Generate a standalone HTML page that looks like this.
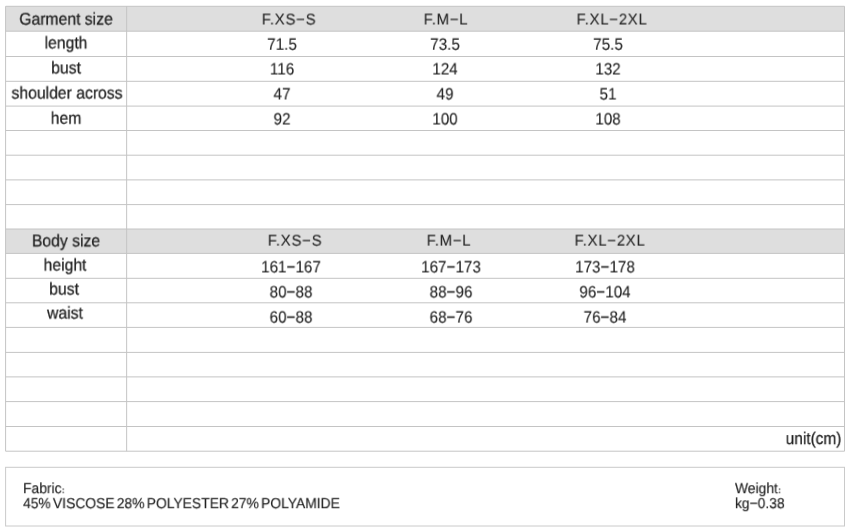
<!DOCTYPE html>
<html lang="en"><head><meta charset="utf-8"><title>Size chart</title>
<style>
html,body{margin:0;padding:0;background:#fff}
body{width:850px;height:532px;position:relative;overflow:hidden;font-family:"Liberation Sans","Noto Serif CJK SC",sans-serif;color:#222;text-rendering:geometricPrecision}
svg{position:absolute;left:0;top:0}
svg line{stroke:#c4c4c4;stroke-width:1}
.t{position:absolute;white-space:nowrap;line-height:20px;height:20px;will-change:transform}
.hd{letter-spacing:0.77px;-webkit-text-stroke:0.1px #222}
.lab{-webkit-text-stroke:0.25px #222}
.val{-webkit-text-stroke:0.1px #222}
.sm{-webkit-text-stroke:0.15px #222;word-spacing:-1.7px}
.co{font-size:8px;-webkit-text-stroke:0.5px #222}
</style></head><body>
<svg width="850" height="532" viewBox="0 0 850 532">
<rect x="5.6" y="6.3" width="838.90" height="24.90" fill="#dedede"/>
<rect x="5.6" y="229.0" width="838.90" height="24.40" fill="#dedede"/>
<line x1="5.6" y1="6.3" x2="844.5" y2="6.3"/>
<line x1="5.6" y1="31.2" x2="844.5" y2="31.2"/>
<line x1="5.6" y1="56.5" x2="844.5" y2="56.5"/>
<line x1="5.6" y1="81.3" x2="844.5" y2="81.3"/>
<line x1="5.6" y1="106.1" x2="844.5" y2="106.1"/>
<line x1="5.6" y1="130.5" x2="844.5" y2="130.5"/>
<line x1="5.6" y1="155.2" x2="844.5" y2="155.2"/>
<line x1="5.6" y1="179.9" x2="844.5" y2="179.9"/>
<line x1="5.6" y1="204.6" x2="844.5" y2="204.6"/>
<line x1="5.6" y1="229.0" x2="844.5" y2="229.0"/>
<line x1="5.6" y1="253.4" x2="844.5" y2="253.4"/>
<line x1="5.6" y1="278.3" x2="844.5" y2="278.3"/>
<line x1="5.6" y1="302.8" x2="844.5" y2="302.8"/>
<line x1="5.6" y1="327.4" x2="844.5" y2="327.4"/>
<line x1="5.6" y1="352.4" x2="844.5" y2="352.4"/>
<line x1="5.6" y1="376.9" x2="844.5" y2="376.9"/>
<line x1="5.6" y1="401.6" x2="844.5" y2="401.6"/>
<line x1="5.6" y1="426.5" x2="844.5" y2="426.5"/>
<line x1="5.6" y1="451.2" x2="844.5" y2="451.2"/>
<line x1="5.6" y1="6.3" x2="5.6" y2="451.2"/>
<line x1="126.65" y1="6.3" x2="126.65" y2="451.2"/>
<line x1="844.5" y1="6.3" x2="844.5" y2="451.2"/>
<rect x="5.6" y="467.3" width="838.90" height="58.7" fill="none" stroke="#cacaca" stroke-width="1"/>
</svg>
<div class="t lab" style="left:65.5px;top:9px;font-size:17px;transform:translate(-50%,0.6px) scaleX(0.925)">Garment size</div>
<div class="t lab" style="left:66.2px;top:33px;font-size:17px;transform:translate(-50%,0.4px) scaleX(0.925)">length</div>
<div class="t lab" style="left:65.8px;top:58px;font-size:17px;transform:translate(-50%,0.4px) scaleX(0.925)">bust</div>
<div class="t lab" style="left:66.8px;top:83px;font-size:17px;transform:translate(-50%,0.55px) scaleX(0.925)">shoulder across</div>
<div class="t lab" style="left:66.0px;top:108px;font-size:17px;transform:translate(-50%,0.7px) scaleX(0.925)">hem</div>
<div class="t lab" style="left:65.7px;top:231px;font-size:17px;transform:translate(-50%,0.4px) scaleX(0.925)">Body size</div>
<div class="t lab" style="left:64.6px;top:255px;font-size:17px;transform:translate(-50%,0.55px) scaleX(0.925)">height</div>
<div class="t lab" style="left:64.3px;top:279px;font-size:17px;transform:translate(-50%,0.55px) scaleX(0.925)">bust</div>
<div class="t lab" style="left:64.7px;top:303px;font-size:17px;transform:translate(-50%,0.55px) scaleX(0.925)">waist</div>
<div class="t hd" style="left:288.9px;top:10px;font-size:15.5px;transform:translate(-50%,0.45px) scaleX(0.96)">F.XS−S</div>
<div class="t hd" style="left:446.3px;top:10px;font-size:15.5px;transform:translate(-50%,0.45px) scaleX(0.96)">F.M−L</div>
<div class="t hd" style="left:611.9px;top:10px;font-size:15.5px;transform:translate(-50%,0.45px) scaleX(0.96)">F.XL−2XL</div>
<div class="t hd" style="left:294.5px;top:231px;font-size:15.5px;transform:translate(-50%,0.6px) scaleX(0.96)">F.XS−S</div>
<div class="t hd" style="left:448.5px;top:231px;font-size:15.5px;transform:translate(-50%,0.6px) scaleX(0.96)">F.M−L</div>
<div class="t hd" style="left:610.4px;top:231px;font-size:15.5px;transform:translate(-50%,0.6px) scaleX(0.96)">F.XL−2XL</div>
<div class="t val" style="left:282.0px;top:34px;font-size:16.5px;transform:translate(-50%,0.7px) scaleX(0.925)">71.5</div>
<div class="t val" style="left:444.5px;top:34px;font-size:16.5px;transform:translate(-50%,0.7px) scaleX(0.925)">73.5</div>
<div class="t val" style="left:607.8px;top:34px;font-size:16.5px;transform:translate(-50%,0.7px) scaleX(0.925)">75.5</div>
<div class="t val" style="left:282.0px;top:59px;font-size:16.5px;transform:translate(-50%,0.5px) scaleX(0.925)">116</div>
<div class="t val" style="left:444.5px;top:59px;font-size:16.5px;transform:translate(-50%,0.5px) scaleX(0.925)">124</div>
<div class="t val" style="left:607.8px;top:59px;font-size:16.5px;transform:translate(-50%,0.5px) scaleX(0.925)">132</div>
<div class="t val" style="left:282.0px;top:84px;font-size:16.5px;transform:translate(-50%,0.5px) scaleX(0.925)">47</div>
<div class="t val" style="left:444.5px;top:84px;font-size:16.5px;transform:translate(-50%,0.5px) scaleX(0.925)">49</div>
<div class="t val" style="left:607.8px;top:84px;font-size:16.5px;transform:translate(-50%,0.5px) scaleX(0.925)">51</div>
<div class="t val" style="left:282.0px;top:109px;font-size:16.5px;transform:translate(-50%,0.5px) scaleX(0.925)">92</div>
<div class="t val" style="left:444.5px;top:109px;font-size:16.5px;transform:translate(-50%,0.5px) scaleX(0.925)">100</div>
<div class="t val" style="left:607.8px;top:109px;font-size:16.5px;transform:translate(-50%,0.5px) scaleX(0.925)">108</div>
<div class="t val" style="left:291.3px;top:257px;font-size:16.5px;transform:translate(-50%,0.4px) scaleX(0.925)">161−167</div>
<div class="t val" style="left:451.3px;top:257px;font-size:16.5px;transform:translate(-50%,0.4px) scaleX(0.925)">167−173</div>
<div class="t val" style="left:605.3px;top:257px;font-size:16.5px;transform:translate(-50%,0.4px) scaleX(0.925)">173−178</div>
<div class="t val" style="left:291.3px;top:282px;font-size:16.5px;transform:translate(-50%,0.4px) scaleX(0.925)">80−88</div>
<div class="t val" style="left:451.3px;top:282px;font-size:16.5px;transform:translate(-50%,0.4px) scaleX(0.925)">88−96</div>
<div class="t val" style="left:605.3px;top:282px;font-size:16.5px;transform:translate(-50%,0.4px) scaleX(0.925)">96−104</div>
<div class="t val" style="left:291.3px;top:307px;font-size:16.5px;transform:translate(-50%,0.6px) scaleX(0.925)">60−88</div>
<div class="t val" style="left:451.3px;top:307px;font-size:16.5px;transform:translate(-50%,0.6px) scaleX(0.925)">68−76</div>
<div class="t val" style="left:605.3px;top:307px;font-size:16.5px;transform:translate(-50%,0.6px) scaleX(0.925)">76−84</div>
<div class="t lab" style="right:8.6px;top:429px;font-size:17px;transform-origin:100% 50%;transform:translateY(0.1px) scaleX(0.908)">unit(cm)</div>
<div class="t sm" style="left:23.0px;top:479px;font-size:14.7px;transform-origin:0 50%;transform:translateY(0.25px) scaleX(0.943)">Fabric<span class="co">：</span></div>
<div class="t sm" style="left:23.2px;top:494px;font-size:14.7px;transform-origin:0 50%;transform:translateY(0.25px) scaleX(0.943)">45% VISCOSE 28% POLYESTER 27% POLYAMIDE</div>
<div class="t sm" style="left:735.2px;top:479px;font-size:14.7px;transform-origin:0 50%;transform:translateY(0.25px) scaleX(0.943)">Weight<span class="co">：</span></div>
<div class="t sm" style="left:735.2px;top:494px;font-size:14.7px;transform-origin:0 50%;transform:translateY(0.25px) scaleX(0.943)">kg−0.38</div>
</body></html>
